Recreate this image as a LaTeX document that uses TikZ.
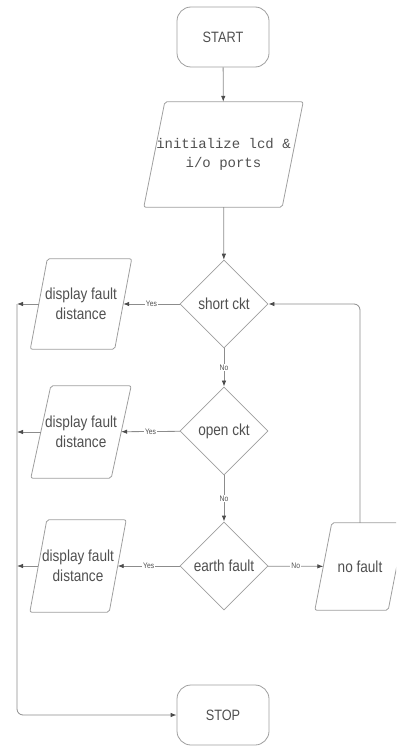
\documentclass[tikz,border=0pt]{standalone}
\usepackage{fontspec}
\setmainfont{Liberation Sans}
\newfontfamily\labf[FakeStretch=0.85]{Liberation Sans}
\newfontfamily\monof{Liberation Mono}
\usetikzlibrary{shapes.geometric,arrows.meta}
\definecolor{ln}{HTML}{8C8C8C}
\definecolor{bd}{HTML}{9E9E9E}
\definecolor{tx}{HTML}{505050}
\newcommand\drawpara[2]{%
  \draw[pline] ([xshift=#2/2]#1.north west) -- ([xshift=#2/2]#1.north east)
    -- ([xshift=-#2/2]#1.south east) -- ([xshift=-#2/2]#1.south west) -- cycle;}
\begin{document}
\begin{tikzpicture}[x=1pt,y=-1pt,
  base/.style={draw=bd, line width=0.8pt, text=tx, inner sep=0pt},
  pline/.style={draw=bd, line width=0.8pt, rounded corners=2pt},
  term/.style={base, rounded corners=14pt, minimum width=92pt, minimum height=60pt,
    font=\labf\fontsize{15}{18}\selectfont},
  io/.style={rectangle, inner sep=0pt, text=tx, align=center,
    font=\labf\fontsize{16}{20}\selectfont},
  dec/.style={base, diamond, aspect=1, minimum width=88pt, minimum height=88pt,
    font=\labf\fontsize{16}{20}\selectfont},
  arr/.style={draw=ln, line width=0.8pt, -{Latex[length=6pt,width=4.5pt,color=black!70]}},
  lbl/.style={fill=white, inner sep=1pt, text=tx, font=\labf\fontsize{8}{9}\selectfont}
]
\useasboundingbox (0,0) rectangle (396,749);
\clip (0,0) rectangle (396,749);

\node[term] (start) at (223,37) {START};
\node[io, minimum width=138pt, minimum height=105pt,
  font=\monof\fontsize{14}{19}\selectfont] (init) at (223.5,154.5) {initialize lcd \&\\i/o ports};
\drawpara{init}{21}
\node[dec] (d1) at (224,304) {short ckt};
\node[dec] (d2) at (224,431) {open ckt};
\node[dec] (d3) at (224,566) {earth fault};
\node[io, minimum width=84pt, minimum height=90pt] (p1) at (81,304) {display fault\\distance};
\drawpara{p1}{17}
\node[io, minimum width=80pt, minimum height=92pt] (p2) at (81,432) {display fault\\distance};
\drawpara{p2}{20}
\node[io, minimum width=79pt, minimum height=92pt] (p3) at (78,566) {display fault\\distance};
\drawpara{p3}{17}
\node[io, minimum width=73pt, minimum height=87pt] (nf) at (360,566.5) {no fault};
\drawpara{nf}{17}
\node[term] (stop) at (223,715) {STOP};

\coordinate (l1) at (17,304);
\coordinate (l2) at (17,432);
\coordinate (l3) at (17,566);

\draw[arr] (start) -- (init);
\draw[arr] (init) -- (d1);
\draw[arr] (d1) -- node[lbl] {No} (d2);
\draw[arr] (d2) -- node[lbl] {No} (d3);
\draw[arr] (d1) -- node[lbl] {Yes} (p1);
\draw[arr] (d2) -- node[lbl] {Yes} (p2);
\draw[arr] (d3) -- node[lbl] {Yes} (p3);
\draw[arr] (d3) -- node[lbl] {No} (nf);
\draw[arr] (p1) -- (l1);
\draw[arr] (p2) -- (l2);
\draw[arr] (p3) -- (l3);
\draw[arr, rounded corners=6pt] (nf.north) |- (d1);
\draw[arr, rounded corners=6pt] (l1) |- (stop);
\end{tikzpicture}
\end{document}
